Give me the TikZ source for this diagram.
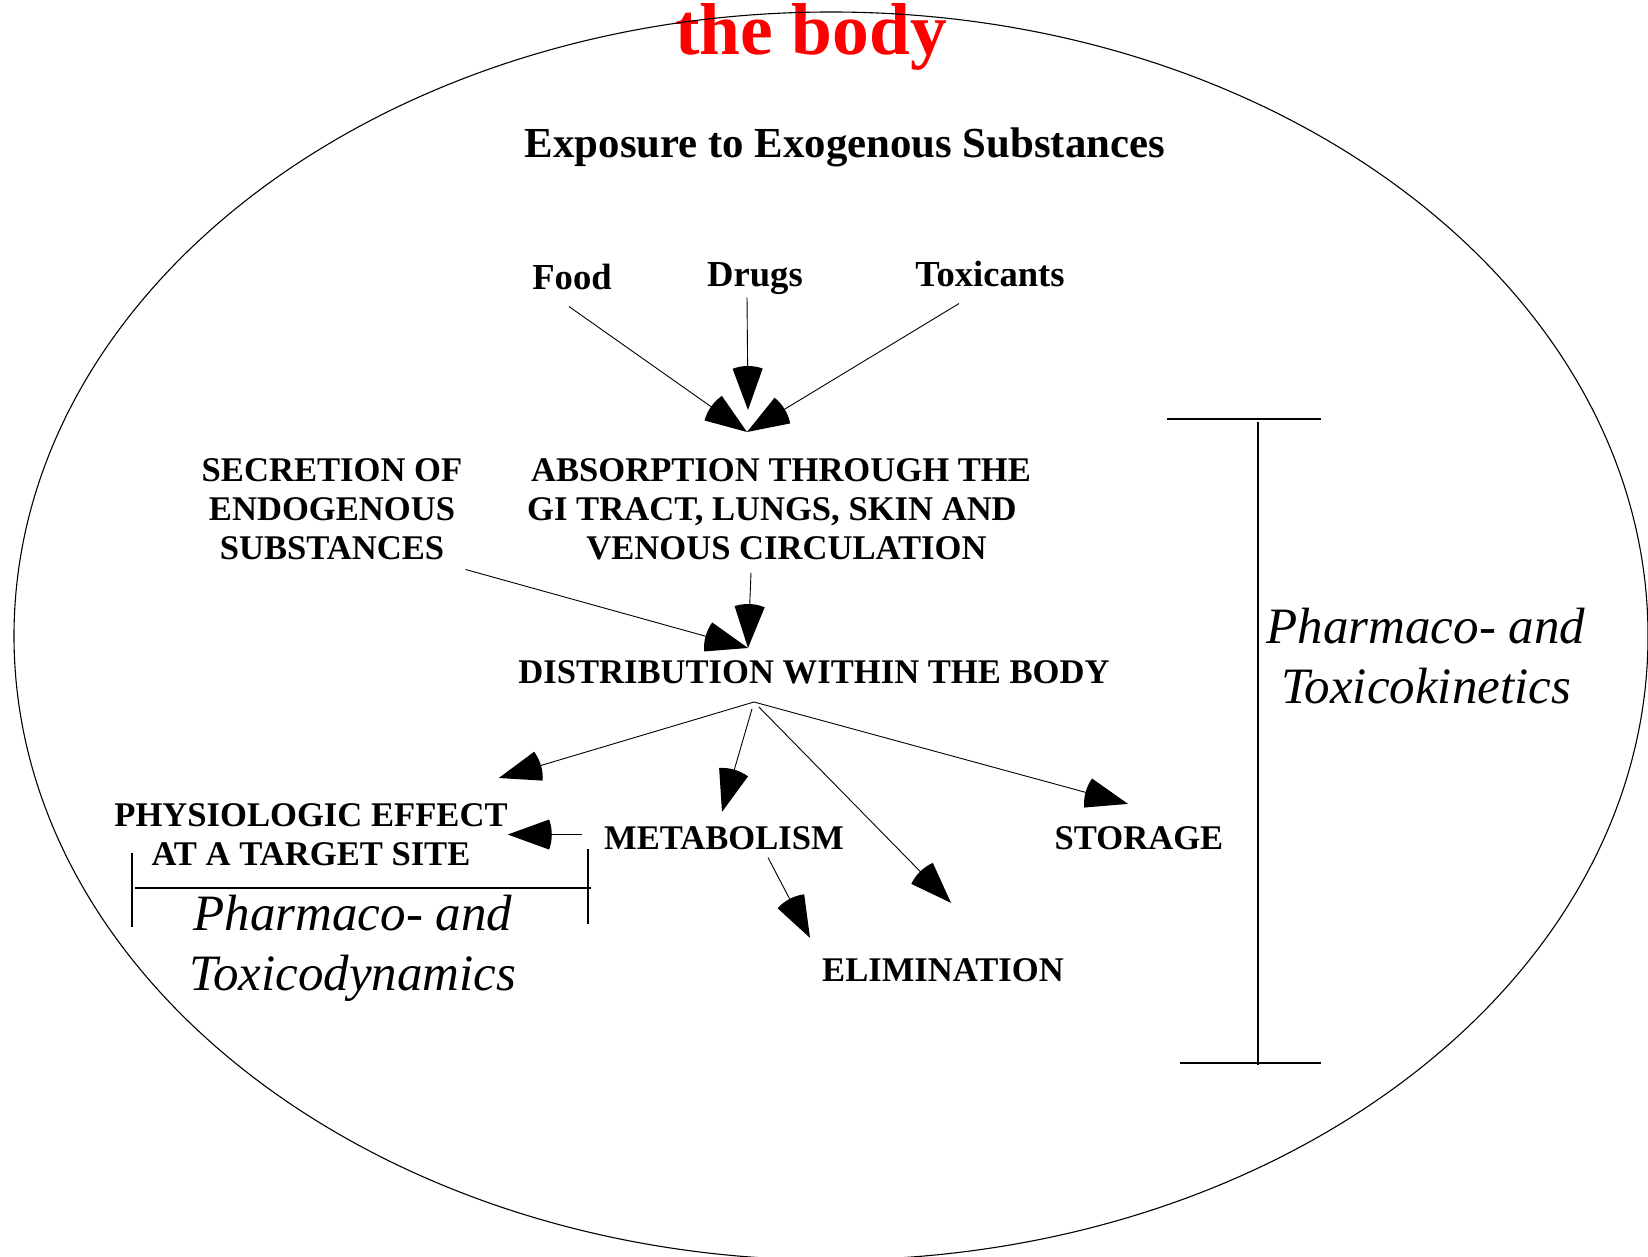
\documentclass[tikz,border=0pt]{standalone}
\usepackage{fontspec}
\setmainfont{Liberation Serif}
\usetikzlibrary{calc}

\pgfdeclarearrow{
  name = Fan,
  setup code = {
    \pgfarrowssettipend{0pt}
    \pgfarrowssetlineend{-30pt}
    \pgfarrowssetbackend{-44pt}
    \pgfarrowshullpoint{0pt}{0pt}
    \pgfarrowsupperhullpoint{-44pt}{16pt}
  },
  drawing code = {
    \pgfpathmoveto{\pgfpointorigin}
    \pgfpathlineto{\pgfqpointpolar{160}{44pt}}
    \pgfpatharc{160}{200}{44pt}
    \pgfpathclose
    \pgfusepathqfill
  }
}

\begin{document}
\begin{tikzpicture}[x=1pt,y=-1pt,
  lbl/.style={inner sep=0pt, font=\fontsize{34.6}{39.4}\selectfont\bfseries, align=center},
  src/.style={inner sep=0pt, font=\fontsize{36.6}{42}\selectfont\bfseries, anchor=base},
  ital/.style={inner sep=0pt, font=\fontsize{51}{60}\selectfont\itshape, align=center, anchor=north},
  arr/.style={-Fan, line width=0.9pt},
  brk/.style={line width=1.2pt}]

\useasboundingbox (0,0) rectangle (1648,1257);
\fill[white] (0,0) rectangle (1648,1257);

\node[inner sep=0pt, anchor=base, text=red, font=\fontsize{73.5}{80}\selectfont\bfseries] (title) at (811,55) {the body};
\node[inner sep=0pt, anchor=base, font=\fontsize{42.8}{48}\selectfont\bfseries] (expo) at (845,158) {Exposure to Exogenous Substances};
\node[src] (food) at (572,290) {Food};
\node[src] (drugs) at (755,286) {Drugs};
\node[src] (tox) at (990,286) {Toxicants};
\node[lbl, anchor=north] (absorb) at (781,458) {ABSORPTION THROUGH THE\\GI TRACT, LUNGS, SKIN AND\hbox to 18pt{}\\\hspace*{11pt}VENOUS CIRCULATION};
\node[lbl, anchor=north] (secret) at (332,458) {SECRETION OF\\ENDOGENOUS\\SUBSTANCES};
\node[lbl, anchor=base] (distrib) at (814,683) {DISTRIBUTION WITHIN THE BODY};
\node[lbl, anchor=north] (physio) at (311,803) {PHYSIOLOGIC EFFECT\\AT A TARGET SITE};
\node[lbl, anchor=base] (metab) at (724,849) {METABOLISM};
\node[lbl, anchor=base] (storage) at (1139,849) {STORAGE};
\node[lbl, anchor=base] (elim) at (943,981) {ELIMINATION};
\node[ital] (kin) at (1426,608) {Pharmaco- and\\Toxicokinetics};
\node[ital] (dyn) at (353,895) {Pharmaco- and\\Toxicodynamics};

\draw[line width=1.1pt] (831,636) ellipse [x radius=817pt, y radius=624pt];

\coordinate (absIn) at (747,432);
\coordinate (absInD) at (748,410);
\coordinate (distIn) at (748,648);
\coordinate (distOut) at (754,702);

\draw[arr] ([xshift=-3pt,yshift=-16pt]food.south) -- (absIn);
\draw[arr] ([xshift=-8pt,yshift=-3pt]drugs.south) -- (absInD);
\draw[arr] ([xshift=-31pt,yshift=-17pt]tox.south) -- (absIn);
\draw[arr] ([xshift=-30pt,yshift=-12pt]absorb.south) -- (distIn);
\draw[arr] ([xshift=3pt,yshift=-9pt]secret.south east) -- (distIn);

\draw[arr] (distOut) -- ([xshift=-9pt,yshift=25pt]physio.north east);
\draw[arr, shorten <=7pt] (distOut) -- ([xshift=-2pt,yshift=14pt]metab.north);
\draw[arr, shorten <=7pt] (distOut) -- ([xshift=8pt,yshift=55pt]elim.north);
\draw[arr] (distOut) -- ([xshift=-11pt,yshift=22pt]storage.north);
\draw[arr, shorten <=22pt] (metab.west |- physio.east) -- (physio.east);
\draw[arr] ([xshift=44pt,yshift=-8pt]metab.south) -- ([xshift=-12pt,yshift=20pt]elim.north west);

\draw[brk] (1167,419) -- (1321,419);
\draw[brk] (1258,422) -- (1258,1065);
\draw[brk] (1180,1063) -- (1321,1063);
\draw[brk] (135,888) -- (591,888);
\draw[brk] (132,853) -- (132,927);
\draw[brk] (588,849) -- (588,924);
\end{tikzpicture}
\end{document}
